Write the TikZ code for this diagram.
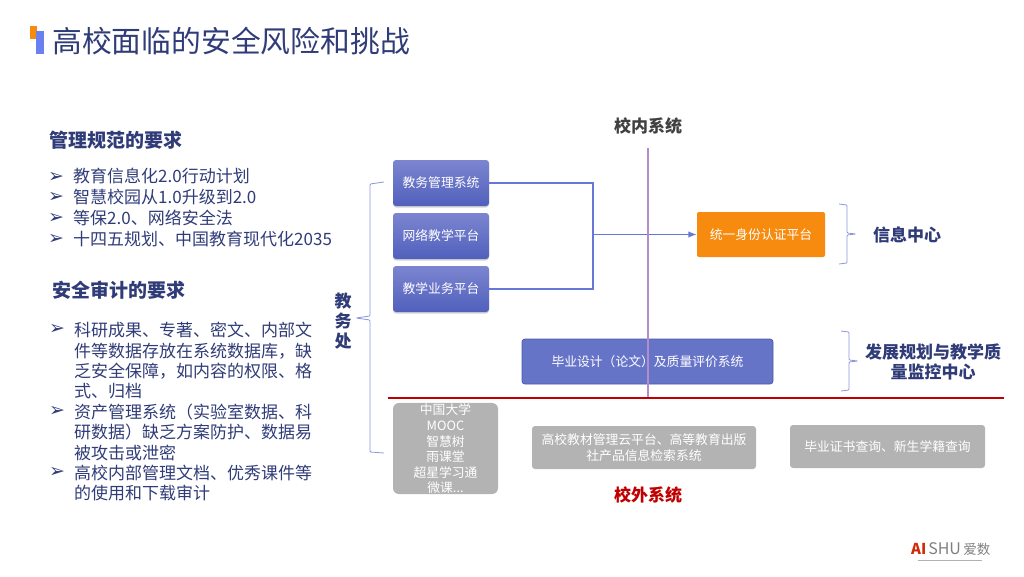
\documentclass[tikz,border=0pt]{standalone}
\usepackage{fontspec}
\setmainfont{Noto Sans CJK SC}
\newfontfamily\bulletfont{DejaVu Sans}
\usetikzlibrary{arrows.meta,shadows}

\begin{document}
\begin{tikzpicture}[x=1pt,y=-1pt,>=Latex]
\definecolor{navytext}{RGB}{48,60,120}
\definecolor{boxtop}{RGB}{124,133,208}
\definecolor{boxbottom}{RGB}{80,96,188}
\definecolor{linkblue}{RGB}{102,119,216}
\definecolor{markblue}{RGB}{106,128,240}
\definecolor{bracepurple}{RGB}{140,150,220}
\definecolor{thesisfill}{RGB}{102,116,200}
\definecolor{thesisline}{RGB}{76,90,168}
\definecolor{authfill}{RGB}{246,139,15}
\definecolor{greyfill}{RGB}{179,179,179}
\definecolor{splitred}{RGB}{192,0,0}
\definecolor{splitpurple}{RGB}{180,140,200}
\tikzset{
  heading/.style={anchor=west,inner sep=0pt,text=navytext,font=\fontsize{19}{22}\selectfont\bfseries},
  listtext/.style={anchor=north west,inner sep=0pt,align=left,text=navytext,font=\fontsize{17}{20.4}\selectfont},
  bullet/.style={anchor=center,inner sep=0pt,text=navytext,font=\fontsize{19}{20}\bulletfont},
  sysbox/.style={rounded corners=3pt,minimum width=96pt,minimum height=46pt,inner sep=0pt,text=white,
    top color=boxtop,bottom color=boxbottom,draw=none,drop shadow={shadow xshift=0pt,shadow yshift=-1.5pt,opacity=.35},
    font=\fontsize{12.8}{16}\selectfont},
  greybox/.style={rounded corners=3pt,fill=greyfill,inner sep=0pt,text=white,align=center,font=\fontsize{12.8}{15.6}\selectfont},
  sidelabel/.style={inner sep=0pt,align=center,text=navytext,font=\fontsize{17}{20.4}\selectfont\bfseries},
  bracket/.style={draw=bracepurple,line width=.8pt,rounded corners=1pt},
}
\useasboundingbox (0,0) rectangle (1024,576);
% title
\fill[authfill] (30,26) rectangle (37,39);
\fill[markblue] (36,31) rectangle (44,54);
\node[anchor=west,inner sep=0pt,text=navytext,font=\fontsize{29.8}{34}\selectfont] (title) at (52,41) {高校面临的安全风险和挑战};
% left column
\node[heading] (normhead) at (49.5,140) {管理规范的要求};
\node[listtext,font=\fontsize{17}{21}\selectfont] (normlist) at (73,168) {教育信息化2.0行动计划\\智慧校园从1.0升级到2.0\\等保2.0、网络安全法\\十四五规划、中国教育现代化2035};
\node[bullet] (norma) at (56,177) {➢};
\node[bullet] (normb) at (56,197) {➢};
\node[bullet] (normc) at (56,218) {➢};
\node[bullet] (normd) at (56,239) {➢};
\node[heading] (audithead) at (52.5,290) {安全审计的要求};
\node[listtext] (auditlist) at (74,322) {科研成果、专著、密文、内部文\\件等数据存放在系统数据库，缺\\乏安全保障，如内容的权限、格\\式、归档\\资产管理系统（实验室数据、科\\研数据）缺乏方案防护、数据易\\被攻击或泄密\\高校内部管理文档、优秀课件等\\的使用和下载审计};
\node[bullet] (audita) at (57,329) {➢};
\node[bullet] (auditb) at (57,411) {➢};
\node[bullet] (auditc) at (57,472) {➢};
% office and its brace
\node[sidelabel] (office) at (343,321) {教\\务\\处};
\draw[bracket] (384,182) -- (370,184) -- (370,316) -- (356,318) -- (370,320) -- (370,452) -- (384,453);
% systems
\node[sysbox] (sysa) at (441,183) {教务管理系统};
\node[sysbox] (sysb) at (441,236) {网络教学平台};
\node[sysbox] (sysc) at (441,289) {教学业务平台};
\node[rounded corners=2pt,fill=authfill,minimum width=128pt,minimum height=45pt,inner sep=0pt,text=white,font=\fontsize{12.8}{16}\selectfont] (auth) at (761,234.5) {统一身份认证平台};
\node[rounded corners=3pt,fill=thesisfill,draw=thesisline,line width=.8pt,minimum width=251pt,minimum height=45pt,inner sep=0pt,text=white,font=\fontsize{12.8}{16}\selectfont] (thesis) at (647.5,361.5) {毕业设计（论文）及质量评价系统};
\coordinate (hub) at (593,234.5);
\draw[linkblue,line width=1.2pt] (sysa.east) -| (hub);
\draw[linkblue,line width=1.2pt] (sysc.east) -| (hub);
\draw[->,linkblue,line width=1.2pt] (hub) -- (auth.west);
% right braces
\draw[bracket] (839,204) -- (847,205) -- (847,233) -- (856,234) -- (847,235) -- (847,263) -- (839,264);
\draw[bracket] (841,331) -- (849,332) -- (849,360) -- (858,361) -- (849,362) -- (849,390) -- (841,391);
\node[sidelabel] (infocenter) at (907,234.5) {信息中心};
\node[sidelabel] (plancenter) at (933,362) {发展规划与教学质\\量监控中心};
% split lines
\coordinate (splitl) at (388,398);
\coordinate (splitr) at (1004,398);
\coordinate (splitt) at (648,148);
\coordinate (splitb) at (648,398);
\draw[splitpurple,line width=1.5pt] (splitt) -- (splitb);
\draw[splitred,line width=1.5pt] (splitl) -- (splitr);
\node[inner sep=0pt,text=black!75,font=\fontsize{17}{20}\selectfont\bfseries] (inside) at (648,126) {校内系统};
\node[inner sep=0pt,text=splitred,font=\fontsize{17}{20}\selectfont\bfseries] (outside) at (648,495) {校外系统};
% outside systems
\node[greybox,rounded corners=6pt,minimum width=105pt,minimum height=91pt] (mooc) at (445.5,448.5) {\rule{0pt}{12pt}中国大学\\MOOC\\智慧树\\雨课堂\\超星学习通\\微课...};
\node[greybox,minimum width=224pt,minimum height=43pt] (press) at (644,447.5) {高校教材管理云平台、高等教育出版\\社产品信息检索系统};
\node[greybox,minimum width=195pt,minimum height=43pt] (query) at (887.5,446.5) {毕业证书查询、新生学籍查询};
% logo
\node[anchor=west,inner sep=0pt,text=splitred!70!authfill,font=\fontsize{15}{16}\selectfont\bfseries] (logoa) at (911,549) {AI};
\node[anchor=west,inner sep=0pt,text=black!50,font=\fontsize{16}{16}\selectfont] (logob) at ([xshift=1.5pt]logoa.east) {SHU};
\node[anchor=west,inner sep=0pt,text=black!50,font=\fontsize{13.5}{16}\selectfont] (logoc) at ([xshift=2pt]logob.east) {爱数};
\coordinate (logol) at (918,560);
\coordinate (logor) at (982,560);
\draw[black!30,line width=.5pt] (logol) -- (logor);
\end{tikzpicture}
\end{document}
